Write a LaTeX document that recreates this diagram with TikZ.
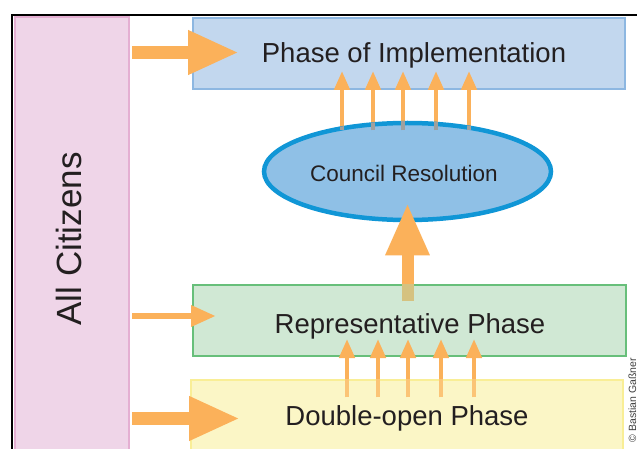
\documentclass[tikz,border=0pt]{standalone}
\usepackage{fontspec}
\setmainfont{Liberation Sans}
\usetikzlibrary{arrows.meta,calc,shapes.geometric}
\definecolor{orng}{RGB}{251,177,90}
\definecolor{paleorng}{RGB}{251,196,118}
\definecolor{olive}{RGB}{213,194,128}
\definecolor{greyov}{RGB}{160,160,158}
\definecolor{implfill}{RGB}{194,215,238}
\definecolor{impldraw}{RGB}{141,183,225}
\definecolor{ellfill}{RGB}{143,192,230}
\definecolor{elldraw}{RGB}{16,150,214}
\definecolor{repfill}{RGB}{208,232,212}
\definecolor{repdraw}{RGB}{103,191,122}
\definecolor{yelfill}{RGB}{251,246,198}
\definecolor{yeldraw}{RGB}{249,238,150}
\definecolor{citfill}{RGB}{239,213,232}
\definecolor{citdraw}{RGB}{228,175,210}
\definecolor{txt}{RGB}{35,31,32}
\newcommand\setfs[1]{\fontsize{#1}{#1}\selectfont}
\begin{document}
\begin{tikzpicture}[x=1pt,y=-1pt,
  phasebox/.style={draw, line width=2pt, inner sep=0pt, minimum height=71pt},
  lbl/.style={text=txt, inner sep=0pt, anchor=base},
  bigarrow/.style={orng, line width=13pt, -{Triangle[length=51pt,width=41pt]}},
  bigup/.style={orng, line width=12pt, -{Triangle[length=52pt,width=41pt]}},
  midarrow/.style={orng, line width=6.5pt, -{Triangle[length=25pt,width=20pt]}},
  smallarrow/.style={orng, line width=4.5pt, -{Triangle[length=19pt,width=15pt]}}]
\useasboundingbox (0,0) rectangle (637,449);
\clip (0,0) rectangle (637,449);
% citizens column and frame
\node[draw=citdraw, fill=citfill, line width=2pt, inner sep=0pt, minimum width=114pt, minimum height=442pt] (cit) at (72,238) {};
\draw[line width=2pt, black] (12,470) -- (12,15) -- (660,15);
\node[lbl, rotate=90, font=\setfs{35}] (citlbl) at (81.5,238.8) {All Citizens};
% phase boxes
\node[phasebox, draw=impldraw, fill=implfill, minimum width=432pt] (impl) at (409,53.5) {};
\node[phasebox, draw=repdraw, fill=repfill, minimum width=433pt] (rep) at (409.5,320.5) {};
\node[phasebox, draw=yeldraw, fill=yelfill, minimum width=432pt] (yel) at (407,415.5) {};
\node[lbl, font=\setfs{27.5}] (impllbl) at (414,63) {Phase of Implementation};
\node[lbl, font=\setfs{27.5}] (replbl) at (410,333) {Representative Phase};
\node[lbl, font=\setfs{27.5}] (yellbl) at (407,425) {Double-open Phase};
% ellipse position (needed by upper arrows)
\coordinate (ellc) at (407.5,171.5);
% upper small arrows: council resolution -> implementation
\foreach \dx in {-65.5,-34.5,-4.5,28.5,61.5}
  \draw[smallarrow] ($(ellc)+(\dx,-41)$) -- ($(ellc |- impl.south)+(\dx,-19)$);
% council resolution ellipse
\node[ellipse, draw=elldraw, fill=ellfill, line width=4.5pt, inner sep=0pt, minimum width=287pt, minimum height=97pt] (ell) at (ellc) {};
\begin{scope}
  \clip (ell.center) ellipse [x radius=145.5pt, y radius=50.5pt];
  \foreach \dx in {-65.5,-34.5,-4.5,28.5,61.5}
    \draw[greyov, line width=4.5pt] ($(ell.center)+(\dx,-41)$) -- ($(ell.center)+(\dx,-56)$);
\end{scope}
\node[lbl, font=\setfs{22.5}] (elllbl) at (404,182) {Council Resolution};
% big arrow: representative -> council
\draw[bigup] ($(rep.north -| ell.center)+(0,17)$) -- ($(ell.south)+(0,-19)$);
\begin{scope}
  \clip (rep.north west) rectangle (rep.south east);
  \draw[olive, line width=12pt] ($(rep.north -| ell.center)+(0,17)$) -- ($(rep.north -| ell.center)+(0,-5)$);
\end{scope}
% lower small arrows: double-open -> representative
\foreach \dx in {-62.5,-31.5,-1.5,31.5,64.5}
  \draw[smallarrow] ($(yel.north -| rep.center)+(\dx,18)$) -- ($(rep.south)+(\dx,-18)$);
\begin{scope}
  \clip (yel.north west) rectangle (yel.south east);
  \foreach \dx in {-62.5,-31.5,-1.5,31.5,64.5}
    \draw[paleorng, line width=4.5pt] ($(yel.north -| rep.center)+(\dx,18)$) -- ($(yel.north -| rep.center)+(\dx,-4)$);
\end{scope}
% arrows from all citizens
\coordinate (a1) at ($(impl.west)+(47,-1)$);
\coordinate (a2) at ($(rep.west)+(24,-4.5)$);
\coordinate (a3) at ($(yel.west)+(50,3)$);
\draw[bigarrow] ([xshift=2pt]cit.east |- a1) -- (a1);
\draw[midarrow] ([xshift=2pt]cit.east |- a2) -- (a2);
\draw[bigarrow] ([xshift=2pt]cit.east |- a3) -- (a3);
% copyright
\node[rotate=90, anchor=south east, inner sep=0pt, text=black!75, font=\setfs{10.5}] (copy) at (636.5,358) {© Bastian Gaßner};
\end{tikzpicture}
\end{document}
